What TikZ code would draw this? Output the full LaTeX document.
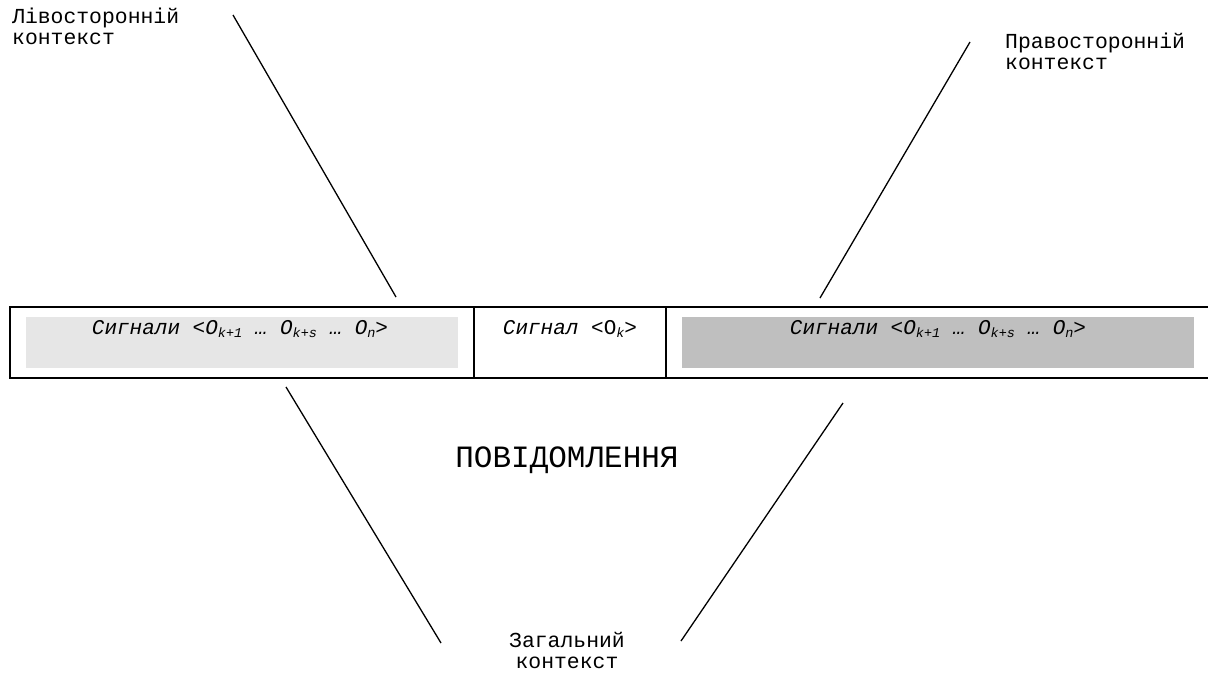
\documentclass[tikz,border=0pt]{standalone}
\usepackage{fontspec}
\setmonofont{Liberation Mono}
\newcommand\sbs[1]{\raisebox{-0.35ex}{\fontsize{13.5}{13.5}\selectfont #1}}
\definecolor{lightfill}{HTML}{E6E6E6}
\definecolor{darkfill}{HTML}{BFBFBF}
\begin{document}
\begin{tikzpicture}[x=1pt,y=-1pt,
  lbl/.style={font=\ttfamily\fontsize{21.4}{21}\selectfont, align=left, inner sep=0pt},
  lblc/.style={font=\ttfamily\fontsize{21.4}{21}\selectfont, align=center, inner sep=0pt},
  sig/.style={font=\ttfamily\itshape\fontsize{21}{21}\selectfont, inner sep=0pt, anchor=base},
  cell/.style={inner sep=0pt, outer sep=0pt, minimum height=71, anchor=north west},
  band/.style={inner sep=0pt, outer sep=0pt, minimum height=51, anchor=north west},
  frame/.style={line width=1.3pt},
  conn/.style={line width=1.3pt}]
\useasboundingbox (0,0) rectangle (1208,673);
% cells
\node[cell, minimum width=464] (lcell) at (10,307) {};
\node[cell, minimum width=192] (mcell) at (474,307) {};
\node[cell, minimum width=546] (rcell) at (666,307) {};
% shaded bands
\node[band, fill=lightfill, minimum width=432] (lband) at (26,317) {};
\node[band, fill=darkfill, minimum width=512] (rband) at (682,317) {};
% frame
\draw[frame] (rcell.north east) -- (lcell.north west) -- (lcell.south west) -- (rcell.south east);
\draw[frame] (lcell.north east) -- (lcell.south east);
\draw[frame] (mcell.north east) -- (mcell.south east);
% signal texts
\node[sig] (ltext) at (240,334) {Сигнали <O\sbs{k+1} … O\sbs{k+s} … O\sbs{n}>};
\node[sig] (mtext) at (570,334) {Сигнал <{\upshape O}\sbs{k}>};
\node[sig] (rtext) at (938,334) {Сигнали <O\sbs{k+1} … O\sbs{k+s} … O\sbs{n}>};
% labels
\node[lbl, anchor=north west] (left) at (12,8) {Лівосторонній\\контекст};
\node[lbl, anchor=north west] (right) at (1005,33) {Правосторонній\\контекст};
\node[lblc, anchor=north] (common) at (567,632) {Загальний\\контекст};
\node[font=\ttfamily\fontsize{31}{31}\selectfont, inner sep=0pt] (msg) at (567,460) {ПОВІДОМЛЕННЯ};
% connectors
\coordinate (lt1) at (233,15);  \coordinate (lt2) at (396,297);
\coordinate (rt1) at (970,42);  \coordinate (rt2) at (820,298);
\coordinate (lb1) at (286,387); \coordinate (lb2) at (441,643);
\coordinate (rb1) at (843,403); \coordinate (rb2) at (681,641);
\draw[conn] (lt1) -- (lt2);
\draw[conn] (rt1) -- (rt2);
\draw[conn] (lb1) -- (lb2);
\draw[conn] (rb1) -- (rb2);
\end{tikzpicture}
\end{document}
